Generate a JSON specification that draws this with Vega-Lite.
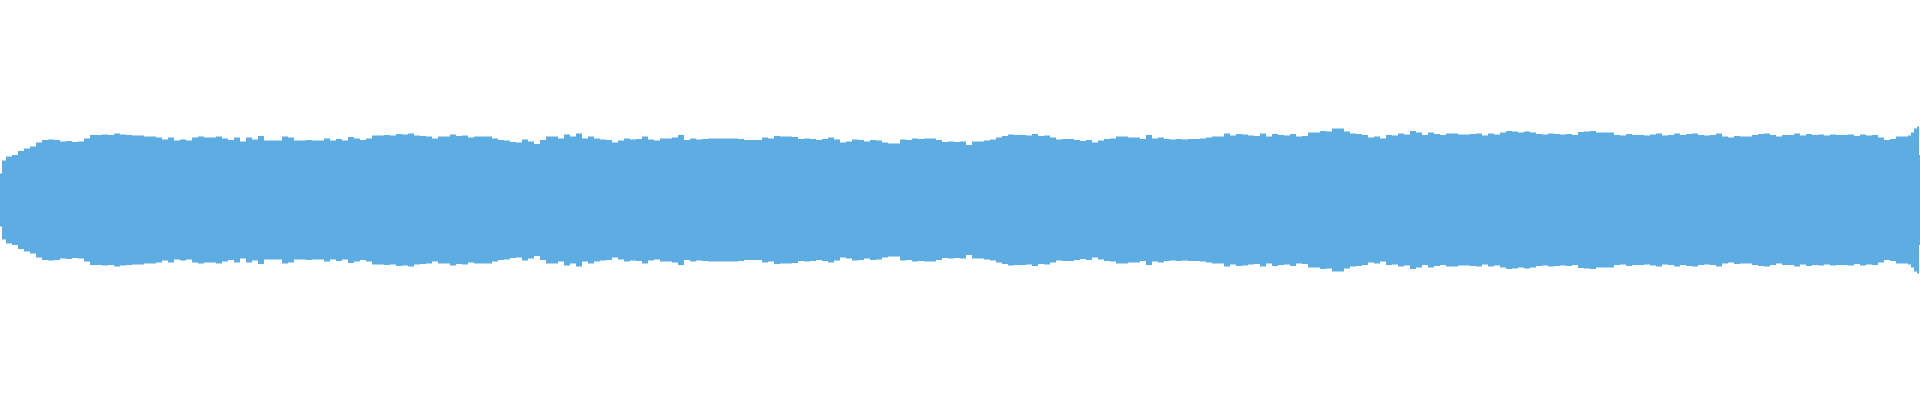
{
  "$schema": "https://vega.github.io/schema/vega-lite/v6.json",
  "width": 1920,
  "height": 400,
  "autosize": {"type": "fit", "contains": "padding"},
  "padding": 0,
  "background": "white",
  "config": {"view": {"stroke": null}},
  "data": {
    "values": [
      {"t":0,"amp":53},{"t":2,"amp":79},{"t":6,"amp":87},{"t":12,"amp":90},{"t":18,"amp":98},{"t":24,"amp":103},{"t":30,"amp":107},{"t":36,"amp":115},{"t":42,"amp":120},{"t":48,"amp":121},{"t":54,"amp":120},{"t":60,"amp":117},{"t":66,"amp":118},{"t":72,"amp":116},{"t":78,"amp":117},{"t":84,"amp":123},{"t":90,"amp":130},{"t":96,"amp":130},{"t":102,"amp":131},{"t":108,"amp":130},{"t":114,"amp":133},{"t":120,"amp":131},{"t":126,"amp":130},{"t":132,"amp":129},{"t":138,"amp":129},{"t":144,"amp":127},{"t":150,"amp":127},{"t":156,"amp":125},{"t":162,"amp":121},{"t":168,"amp":125},{"t":174,"amp":119},{"t":180,"amp":121},{"t":186,"amp":119},{"t":192,"amp":125},{"t":198,"amp":127},{"t":204,"amp":125},{"t":210,"amp":125},{"t":216,"amp":127},{"t":222,"amp":123},{"t":228,"amp":120},{"t":234,"amp":125},
      {"t":240,"amp":117},{"t":246,"amp":125},{"t":252,"amp":121},{"t":258,"amp":128},{"t":264,"amp":119},{"t":270,"amp":119},{"t":276,"amp":119},{"t":282,"amp":127},{"t":288,"amp":125},{"t":294,"amp":119},{"t":300,"amp":119},{"t":306,"amp":120},{"t":312,"amp":119},{"t":318,"amp":119},{"t":324,"amp":123},{"t":330,"amp":119},{"t":336,"amp":122},{"t":342,"amp":119},{"t":348,"amp":126},{"t":354,"amp":123},{"t":360,"amp":120},{"t":366,"amp":123},{"t":372,"amp":129},{"t":378,"amp":129},{"t":384,"amp":130},{"t":390,"amp":129},{"t":396,"amp":132},{"t":402,"amp":131},{"t":408,"amp":133},{"t":414,"amp":129},{"t":420,"amp":128},{"t":426,"amp":127},{"t":432,"amp":123},{"t":438,"amp":127},{"t":444,"amp":127},{"t":450,"amp":131},{"t":456,"amp":128},{"t":462,"amp":129},{"t":468,"amp":125},{"t":474,"amp":127},
      {"t":480,"amp":127},{"t":486,"amp":127},{"t":492,"amp":123},{"t":498,"amp":120},{"t":504,"amp":119},{"t":510,"amp":116},{"t":516,"amp":115},{"t":522,"amp":121},{"t":528,"amp":117},{"t":534,"amp":112},{"t":540,"amp":120},{"t":546,"amp":127},{"t":552,"amp":127},{"t":558,"amp":123},{"t":564,"amp":131},{"t":570,"amp":127},{"t":576,"amp":133},{"t":582,"amp":123},{"t":588,"amp":127},{"t":594,"amp":123},{"t":600,"amp":121},{"t":606,"amp":120},{"t":612,"amp":115},{"t":618,"amp":119},{"t":624,"amp":123},{"t":630,"amp":121},{"t":636,"amp":122},{"t":642,"amp":127},{"t":648,"amp":121},{"t":654,"amp":119},{"t":660,"amp":123},{"t":666,"amp":123},{"t":672,"amp":125},{"t":678,"amp":130},{"t":684,"amp":120},{"t":690,"amp":123},{"t":696,"amp":121},{"t":702,"amp":122},{"t":708,"amp":123},{"t":714,"amp":123},
      {"t":720,"amp":123},{"t":726,"amp":123},{"t":732,"amp":123},{"t":738,"amp":122},{"t":744,"amp":120},{"t":750,"amp":120},{"t":756,"amp":120},{"t":762,"amp":125},{"t":768,"amp":123},{"t":774,"amp":128},{"t":780,"amp":127},{"t":786,"amp":127},{"t":792,"amp":126},{"t":798,"amp":122},{"t":804,"amp":123},{"t":810,"amp":122},{"t":816,"amp":120},{"t":822,"amp":122},{"t":828,"amp":125},{"t":834,"amp":121},{"t":840,"amp":115},{"t":846,"amp":117},{"t":852,"amp":121},{"t":858,"amp":120},{"t":864,"amp":117},{"t":870,"amp":120},{"t":876,"amp":119},{"t":882,"amp":115},{"t":888,"amp":113},{"t":894,"amp":113},{"t":900,"amp":121},{"t":906,"amp":120},{"t":912,"amp":123},{"t":918,"amp":122},{"t":924,"amp":123},{"t":930,"amp":123},{"t":936,"amp":120},{"t":942,"amp":116},{"t":948,"amp":117},{"t":954,"amp":116},
      {"t":960,"amp":117},{"t":966,"amp":110},{"t":972,"amp":117},{"t":978,"amp":117},{"t":984,"amp":119},{"t":990,"amp":121},{"t":996,"amp":125},{"t":1002,"amp":128},{"t":1008,"amp":131},{"t":1014,"amp":130},{"t":1020,"amp":130},{"t":1026,"amp":129},{"t":1032,"amp":132},{"t":1038,"amp":128},{"t":1044,"amp":129},{"t":1050,"amp":125},{"t":1056,"amp":121},{"t":1062,"amp":122},{"t":1068,"amp":122},{"t":1074,"amp":120},{"t":1080,"amp":118},{"t":1086,"amp":120},{"t":1092,"amp":115},{"t":1098,"amp":119},{"t":1104,"amp":122},{"t":1110,"amp":123},{"t":1116,"amp":127},{"t":1122,"amp":127},{"t":1128,"amp":125},{"t":1134,"amp":125},{"t":1140,"amp":122},{"t":1146,"amp":130},{"t":1152,"amp":123},{"t":1158,"amp":125},{"t":1164,"amp":122},{"t":1170,"amp":121},{"t":1176,"amp":122},{"t":1182,"amp":121},{"t":1188,"amp":122},{"t":1194,"amp":122},
      {"t":1200,"amp":123},{"t":1206,"amp":125},{"t":1212,"amp":127},{"t":1218,"amp":127},{"t":1224,"amp":133},{"t":1230,"amp":129},{"t":1236,"amp":132},{"t":1242,"amp":131},{"t":1248,"amp":129},{"t":1254,"amp":128},{"t":1260,"amp":133},{"t":1266,"amp":127},{"t":1272,"amp":132},{"t":1278,"amp":130},{"t":1284,"amp":129},{"t":1290,"amp":132},{"t":1296,"amp":127},{"t":1302,"amp":128},{"t":1308,"amp":135},{"t":1314,"amp":135},{"t":1320,"amp":138},{"t":1326,"amp":137},{"t":1332,"amp":143},{"t":1338,"amp":143},{"t":1344,"amp":137},{"t":1350,"amp":133},{"t":1356,"amp":132},{"t":1362,"amp":130},{"t":1368,"amp":125},{"t":1374,"amp":127},{"t":1380,"amp":123},{"t":1386,"amp":130},{"t":1392,"amp":129},{"t":1398,"amp":133},{"t":1404,"amp":131},{"t":1410,"amp":138},{"t":1416,"amp":135},{"t":1422,"amp":130},{"t":1428,"amp":135},{"t":1434,"amp":132},
      {"t":1440,"amp":130},{"t":1446,"amp":133},{"t":1452,"amp":133},{"t":1458,"amp":131},{"t":1464,"amp":131},{"t":1470,"amp":132},{"t":1476,"amp":133},{"t":1482,"amp":129},{"t":1488,"amp":133},{"t":1494,"amp":131},{"t":1500,"amp":135},{"t":1506,"amp":138},{"t":1512,"amp":137},{"t":1518,"amp":135},{"t":1524,"amp":137},{"t":1530,"amp":135},{"t":1536,"amp":132},{"t":1542,"amp":131},{"t":1548,"amp":133},{"t":1554,"amp":132},{"t":1560,"amp":131},{"t":1566,"amp":132},{"t":1572,"amp":130},{"t":1578,"amp":136},{"t":1584,"amp":137},{"t":1590,"amp":138},{"t":1596,"amp":135},{"t":1602,"amp":135},{"t":1608,"amp":135},{"t":1614,"amp":130},{"t":1620,"amp":129},{"t":1626,"amp":132},{"t":1632,"amp":130},{"t":1638,"amp":130},{"t":1644,"amp":129},{"t":1650,"amp":131},{"t":1656,"amp":133},{"t":1662,"amp":129},{"t":1668,"amp":130},{"t":1674,"amp":133},
      {"t":1680,"amp":130},{"t":1686,"amp":132},{"t":1692,"amp":133},{"t":1698,"amp":130},{"t":1704,"amp":129},{"t":1710,"amp":130},{"t":1716,"amp":133},{"t":1722,"amp":127},{"t":1728,"amp":125},{"t":1734,"amp":128},{"t":1740,"amp":127},{"t":1746,"amp":127},{"t":1752,"amp":130},{"t":1758,"amp":132},{"t":1764,"amp":133},{"t":1770,"amp":130},{"t":1776,"amp":127},{"t":1782,"amp":130},{"t":1788,"amp":130},{"t":1794,"amp":133},{"t":1800,"amp":129},{"t":1806,"amp":132},{"t":1812,"amp":130},{"t":1818,"amp":131},{"t":1824,"amp":129},{"t":1830,"amp":131},{"t":1836,"amp":130},{"t":1842,"amp":130},{"t":1848,"amp":131},{"t":1854,"amp":128},{"t":1860,"amp":131},{"t":1866,"amp":129},{"t":1872,"amp":130},{"t":1878,"amp":125},{"t":1884,"amp":120},{"t":1890,"amp":122},{"t":1896,"amp":127},{"t":1902,"amp":127},{"t":1908,"amp":129},{"t":1911,"amp":135},{"t":1914,"amp":143},{"t":1917,"amp":147},{"t":1919,"amp":90},{"t":1920,"amp":90}
    ]
  },
  "mark": {"type": "area", "interpolate": "step-after", "color": "#5dade2"},
  "encoding": {
    "x": {
      "field": "t",
      "type": "quantitative",
      "scale": {"domain": [0, 1920], "nice": false, "zero": false},
      "axis": null
    },
    "y": {
      "field": "amp",
      "type": "quantitative",
      "stack": "center",
      "scale": {"domain": [-126.5, 273.5], "nice": false, "zero": false},
      "axis": null
    }
  }
}
